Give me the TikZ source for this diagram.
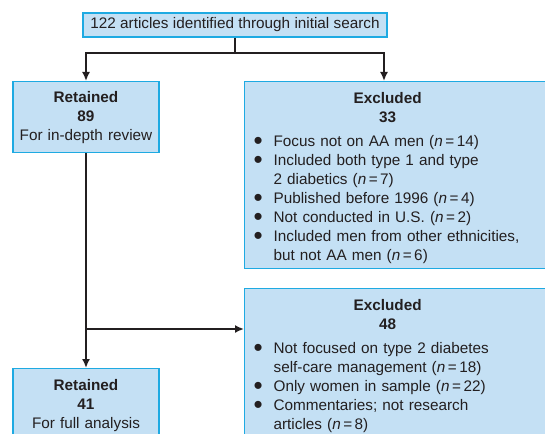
\documentclass[tikz,border=0pt]{standalone}
\usepackage{fontspec}
\setmainfont{Liberation Sans}
\usepackage{tikz}
\usetikzlibrary{arrows.meta,positioning,calc}
\definecolor{boxfill}{RGB}{196,224,244}
\definecolor{boxline}{RGB}{30,170,226}
\definecolor{ink}{RGB}{35,31,32}
\newcommand{\bul}[1]{\par\hangindent=19pt\hangafter=1\noindent
  \makebox[19pt][l]{\hspace*{-1pt}\raisebox{-3pt}[0pt][0pt]{\scalebox{1.7}{\textbullet}}}#1}
\newcommand{\nn}[1]{(\textit{n\/}\kern2.5pt=\kern2.5pt#1)}
\begin{document}
\begin{tikzpicture}[x=1pt,y=-1pt,
    box/.style={draw=boxline, line width=1.2pt, fill=boxfill, text=ink,
      font=\fontsize{15.3}{19}\selectfont},
    flow/.style={draw=ink, line width=1.7pt},
    arr/.style={flow, -{Latex[length=9pt,width=8pt]}}]
  \useasboundingbox (0,0) rectangle (545,433);
  \clip (0,0) rectangle (545,433);
  \node[box, minimum width=304, minimum height=24, inner sep=0] (search) at (235,25)
    {122 articles identified through initial search};
  \node[box, anchor=north, minimum width=146, minimum height=71, text width=146,
    align=center, inner sep=0] (ret1) at (86,81)
    {\textbf{Retained}\\\textbf{89}\\For in-depth review};
  \node[box, anchor=north west, text width=310, inner xsep=10, inner ysep=10.5,
    align=left] (ex1) at (244,81)
    {\noindent\parbox{266pt}{\hyphenpenalty=10000
      {\centering\bfseries Excluded\\33\par}\vspace{5pt}
      \bul{Focus not on AA men \nn{14}}
      \bul{Included both type 1 and type\\2 diabetics \nn{7}}
      \bul{Published before 1996 \nn{4}}
      \bul{Not conducted in U.S. \nn{2}}
      \bul{Included men from other ethnicities,\\but not AA men \nn{6}}\par
      \vspace{-5pt}}};
  \node[box, anchor=north west, text width=310, inner xsep=10, inner ysep=10.5,
    align=left] (ex2) at (244,288)
    {\noindent\parbox{266pt}{\hyphenpenalty=10000
      {\centering\bfseries Excluded\\48\par}\vspace{5pt}
      \bul{Not focused on type 2 diabetes\\self-care management \nn{18}}
      \bul{Only women in sample \nn{22}}
      \bul{Commentaries; not research\\articles \nn{8}}\par
      \vspace*{30pt}}};
  \node[box, anchor=north, minimum width=146, text width=146, align=center,
    inner xsep=0, inner ysep=10.5] (ret2) at (86,368)
    {\textbf{Retained}\\\textbf{41}\\For full analysis\par\vspace*{20pt}};
  \coordinate (split) at (235,53); \coordinate (ex1top) at (384,81);
  \coordinate (branch) at (86,329);
  \draw[flow] (search) -- (split);
  \draw[arr] (split) -| (ret1); \draw[arr] (split) -| (ex1top);
  \draw[arr] (ret1) -- (ret2);
  \draw[arr] (branch) -- (branch -| ex2.west);
\end{tikzpicture}
\end{document}
